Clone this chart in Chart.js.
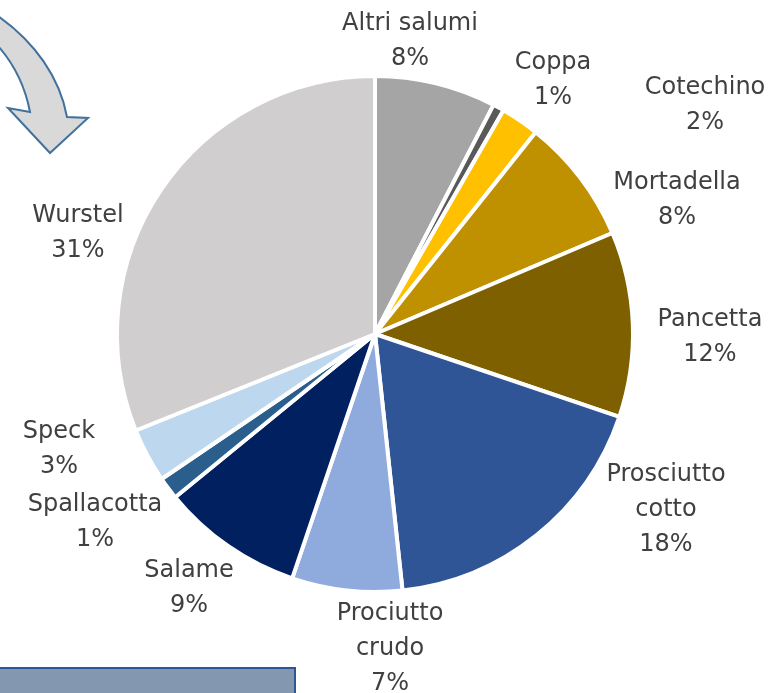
<!DOCTYPE html>
<html>
<head>
<meta charset="utf-8">
<script src="https://cdn.jsdelivr.net/npm/chart.js@4.4.0/dist/chart.umd.min.js"></script>
<style>
  html, body { margin: 0; padding: 0; background: #fff; }
  #wrap { width: 780px; height: 693px; position: relative; }
</style>
</head>
<body>
<div id="wrap"><canvas id="torta"></canvas></div>
<script>
const categorie = ['Altri salumi', 'Coppa', 'Cotechino', 'Mortadella', 'Pancetta',
  'Prosciutto cotto', 'Prociutto crudo', 'Salame', 'Spallacotta', 'Speck', 'Wurstel'];
const quote = [7.6, 0.7, 2.4, 7.9, 11.6, 18.1, 6.9, 8.9, 1.4, 3.4, 31.1];
const colori = ['#A5A5A5', '#595959', '#FFC000', '#BF9000', '#7F6000',
  '#2F5597', '#8FAADC', '#002060', '#2A5E8C', '#BDD7EE', '#D0CECE'];

// posizione delle etichette rispetto al centro della torta (px)
const posEtichette = [
  [35, -293], [178, -254], [330, -229], [302, -134], [335, 3],
  [291, 176], [15, 315], [-186, 254], [-280, 188], [-316, 115], [-297, -101]
];

const ctx = document.getElementById('torta').getContext('2d');

const decorazioni = {
  id: 'decorazioni',
  beforeDraw(chart) {
    const c = chart.ctx;
    c.save();
    // freccia curva in alto a sinistra
    c.beginPath();
    c.moveTo(-2, 16);
    c.bezierCurveTo(35, 42, 60, 78, 67, 117);
    c.lineTo(88, 118);
    c.lineTo(50, 153);
    c.lineTo(8, 108);
    c.lineTo(30, 112);
    c.bezierCurveTo(25, 86, 13, 63, -2, 46);
    c.closePath();
    c.fillStyle = '#D9D9D9';
    c.fill();
    c.lineWidth = 2;
    c.strokeStyle = '#41719C';
    c.stroke();
    // riquadro in basso a sinistra
    c.fillStyle = '#8497B0';
    c.fillRect(-2, 668, 297, 30);
    c.lineWidth = 2;
    c.strokeStyle = '#2F5597';
    c.strokeRect(-2, 668, 297, 30);
    c.restore();
  },
  afterDatasetsDraw(chart) {
    const c = chart.ctx;
    const arcs = chart.getDatasetMeta(0).data;
    const totale = quote.reduce((a, b) => a + b, 0);
    c.save();
    c.fillStyle = '#404040';
    c.font = '24px "DejaVu Sans"';
    c.textAlign = 'center';
    c.textBaseline = 'middle';
    arcs.forEach((arc, i) => {
      const x = arc.x + posEtichette[i][0];
      const y = arc.y + posEtichette[i][1];
      const righe = categorie[i].split(' ');
      if (categorie[i] === 'Altri salumi') righe.splice(0, 2, 'Altri salumi');
      righe.push(Math.round(quote[i] / totale * 100) + '%');
      const h = 35;
      const y0 = y - (righe.length - 1) * h / 2;
      righe.forEach((t, k) => c.fillText(t, x, y0 + k * h));
    });
    c.restore();
  }
};

new Chart(ctx, {
  type: 'pie',
  data: {
    labels: categorie,
    datasets: [{
      data: quote,
      backgroundColor: colori,
      borderColor: '#ffffff',
      borderWidth: 4
    }]
  },
  options: {
    responsive: true,
    maintainAspectRatio: false,
    animation: false,
    layout: { padding: { left: 115, right: 145, top: 74, bottom: 99 } },
    plugins: {
      legend: { display: false },
      tooltip: { enabled: false }
    }
  },
  plugins: [decorazioni]
});
</script>
</body>
</html>
